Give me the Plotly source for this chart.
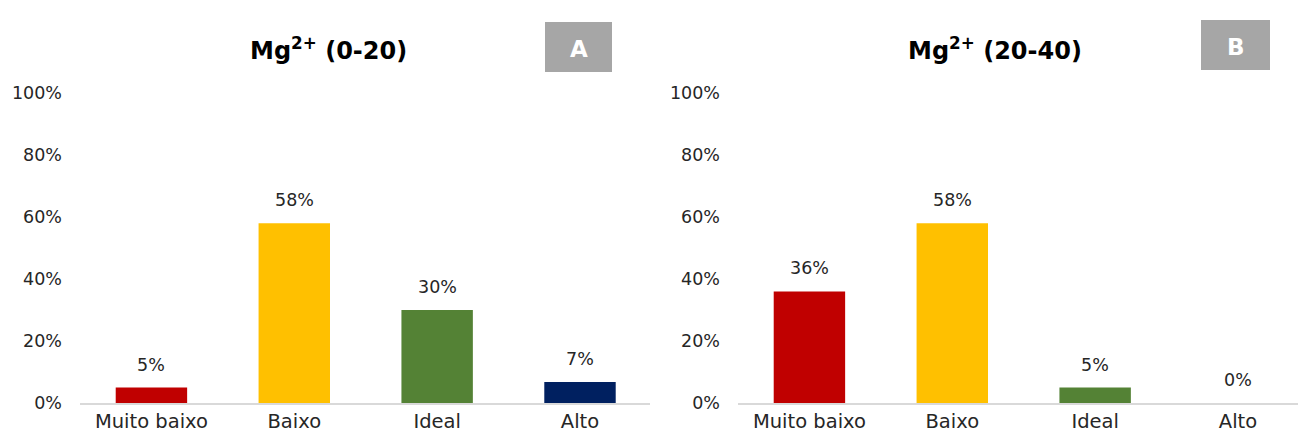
import plotly.graph_objects as go

categories = ["Muito baixo", "Baixo", "Ideal", "Alto"]
values_a = [0.05, 0.58, 0.30, 0.068]
values_b = [0.36, 0.58, 0.05, 0.0]
labels_a = ["5%", "58%", "30%", "7%"]
labels_b = ["36%", "58%", "5%", "0%"]
colors = ["#C00000", "#FFC000", "#548235", "#002060"]
title_a = "Mg<sup>2+</sup> (0-20)"
title_b = "Mg<sup>2+</sup> (20-40)"
y_ticks = [0, 0.2, 0.4, 0.6, 0.8, 1.0]
y_ticktext = ["0%", "20%", "40%", "60%", "80%", "100%"]

W, H = 1298, 441
FONT = "DejaVu Sans"

fig = go.Figure()
fig.add_trace(go.Bar(x=categories, y=values_a, marker=dict(color=colors, line=dict(width=0)),
                     width=0.5, xaxis="x", yaxis="y", hoverinfo="skip"))
fig.add_trace(go.Bar(x=categories, y=values_b, marker=dict(color=colors, line=dict(width=0)),
                     width=0.5, xaxis="x2", yaxis="y2", hoverinfo="skip"))

annotations = []
for xa, ya, vals, labs in [("x", "y", values_a, labels_a), ("x2", "y2", values_b, labels_b)]:
    for c, v, l in zip(categories, vals, labs):
        annotations.append(dict(x=c, y=v, xref=xa, yref=ya, text=l, showarrow=False,
                                yanchor="bottom", yshift=11,
                                font=dict(family=FONT, size=17.5, color="#262626")))

# titles
for tx, text in [(328, title_a), (995, title_b)]:
    annotations.append(dict(x=tx / W, y=1 - 49 / H, xref="paper", yref="paper", text="<b>" + text + "</b>",
                            showarrow=False, font=dict(family=FONT, size=24, color="#000000"),
                            xanchor="center", yanchor="middle"))
annotations.append(dict(x=(545 + 612) / 2 / W, y=1 - 49 / H, xref="paper", yref="paper", text="<b>A</b>",
                        showarrow=False, font=dict(family=FONT, size=23, color="#ffffff"),
                        xanchor="center", yanchor="middle"))
annotations.append(dict(x=(1201 + 1270) / 2 / W, y=1 - 47 / H, xref="paper", yref="paper", text="<b>B</b>",
                        showarrow=False, font=dict(family=FONT, size=23, color="#ffffff"),
                        xanchor="center", yanchor="middle"))

shapes = [
    dict(type="rect", xref="paper", yref="paper", x0=545 / W, x1=612 / W, y0=1 - 72 / H, y1=1 - 22 / H,
         fillcolor="#A6A6A6", line=dict(width=0), layer="below"),
    dict(type="rect", xref="paper", yref="paper", x0=1201 / W, x1=1270 / W, y0=1 - 70 / H, y1=1 - 20 / H,
         fillcolor="#A6A6A6", line=dict(width=0), layer="below"),
]

ydom = [1 - 403 / H, 1 - 93 / H]
common_y = dict(range=[0, 1], tickvals=y_ticks, ticktext=y_ticktext, showgrid=False, zeroline=False,
                showline=False, ticks="", ticklabelstandoff=17, automargin=False,
                tickfont=dict(family=FONT, size=17.5, color="#262626"), domain=ydom, fixedrange=True)
common_x = dict(type="category", showgrid=False, zeroline=False, showline=True, linecolor="#D9D9D9",
                linewidth=2, ticks="", ticklabelstandoff=0, automargin=False,
                tickfont=dict(family=FONT, size=19.5, color="#262626"), fixedrange=True)

fig.update_layout(
    width=W, height=H, margin=dict(l=0, r=0, t=0, b=0, autoexpand=False),
    paper_bgcolor="white", plot_bgcolor="white", showlegend=False,
    xaxis=dict(**common_x, domain=[80 / W, 650 / W], range=[-0.5, 3.49], anchor="y"),
    yaxis=dict(**common_y, anchor="x"),
    xaxis2=dict(**common_x, domain=[738 / W, 1.0], range=[-0.5, 3.42], anchor="y2"),
    yaxis2=dict(**common_y, anchor="x2"),
    annotations=annotations, shapes=shapes,
)

fig.write_html("out.html")
